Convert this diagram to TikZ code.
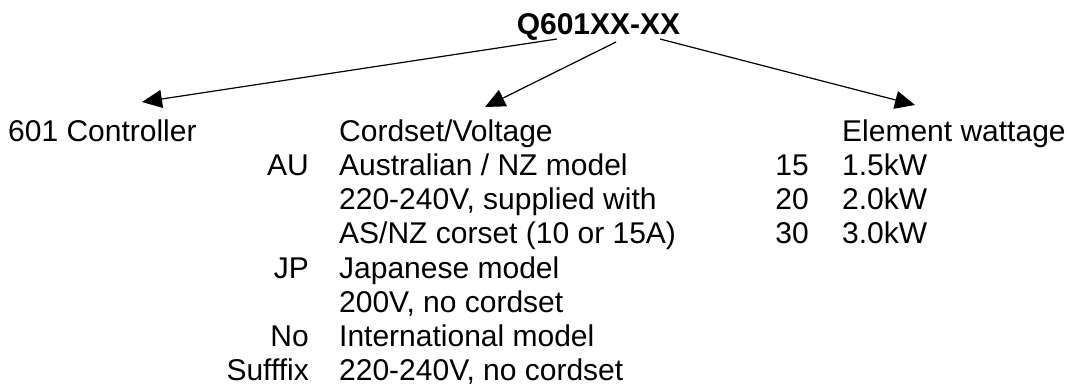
\documentclass[tikz,border=0pt]{standalone}
\usepackage{fontspec}
\setmainfont{Liberation Sans}
\usetikzlibrary{arrows.meta}
\begin{document}
\begin{tikzpicture}[x=1pt,y=-1pt,
  txt/.style={inner sep=0pt, font=\fontsize{30}{34}\selectfont},
  lt/.style={txt, anchor=base west},
  rt/.style={txt, anchor=base east},
  arr/.style={line width=1.2pt, -{Triangle[length=20pt,width=18pt]}}]
\useasboundingbox (0,0) rectangle (1067,385);
% title
\node[inner sep=0pt, anchor=base, font=\fontsize{30}{34}\selectfont\bfseries] (title) at (598.5,35) {Q601XX-XX};
% headings
\node[lt] (ctrl) at (8,141) {601 Controller};
\node[lt] (cord) at (339,141) {Cordset/Voltage};
\node[lt] (watt) at (842,141) {Element wattage};
% cordset column
\node[rt] (au) at (309,175.3) {AU};
\node[lt] (au1) at (339,175.3) {Australian / NZ model};
\node[lt] (au2) at (339,209.6) {220-240V, supplied with};
\node[lt] (au3) at (339,243.9) {AS/NZ corset (10 or 15A)};
\node[rt] (jp) at (309,278.2) {JP};
\node[lt] (jp1) at (339,278.2) {Japanese model};
\node[lt] (jp2) at (339,312.5) {200V, no cordset};
\node[rt] (no) at (309,346.8) {No};
\node[lt] (no1) at (339,346.8) {International model};
\node[rt] (suf) at (309,380.5) {Sufffix};
\node[lt] (no2) at (339,380.5) {220-240V, no cordset};
% wattage column
\node[rt] (w15) at (809,175.3) {15};
\node[lt] (w15d) at (842,175.3) {1.5kW};
\node[rt] (w20) at (809,209.6) {20};
\node[lt] (w20d) at (842,209.6) {2.0kW};
\node[rt] (w30) at (809,243.9) {30};
\node[lt] (w30d) at (842,243.9) {3.0kW};
% arrow end points
\coordinate (s1) at (557,39);
\coordinate (s2) at (616,42);
\coordinate (s3) at (660,39);
\coordinate (e1) at (142,102);
\coordinate (e2) at (485,107);
\coordinate (e3) at (915,105);
\draw[arr] (s1) -- (e1);
\draw[arr] (s2) -- (e2);
\draw[arr] (s3) -- (e3);
\end{tikzpicture}
\end{document}
